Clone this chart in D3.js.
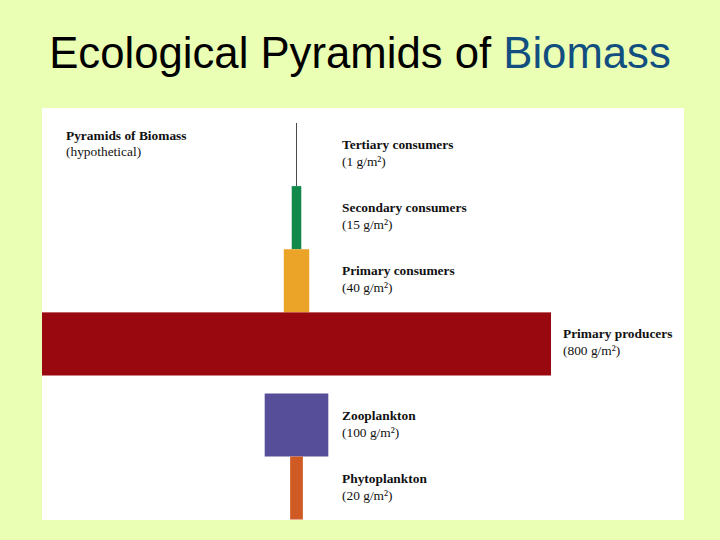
<!DOCTYPE html>
<html><head><meta charset="utf-8">
<script src="https://cdn.jsdelivr.net/npm/d3@7"></script>
<style>html,body{margin:0;padding:0;background:#eaffb4;}</style>
</head><body>
<script>
const topLevels = ["Tertiary consumers", "Secondary consumers", "Primary consumers", "Primary producers"];
const topValues = [1, 15, 40, 800];
const topColors = ["#4a4a4a", "#11894a", "#eba427", "#99070f"];
const bottomLevels = ["Zooplankton", "Phytoplankton"];
const bottomValues = [100, 20];
const bottomColors = ["#564e98", "#cf5a24"];
const unit = "g/m²";

const W = 720, H = 540;
const svg = d3.select("body").append("svg").attr("width", W).attr("height", H);
svg.append("rect").attr("width", W).attr("height", H).attr("fill", "#eaffb4");

const title = svg.append("text").attr("x", 360).attr("y", 68).attr("text-anchor", "middle")
  .attr("font-family", "Liberation Sans, Arial, sans-serif").attr("font-size", 43.7).attr("fill", "#000");
title.append("tspan").text("Ecological Pyramids of ");
title.append("tspan").attr("fill", "#124f80").text("Biomass");

svg.append("rect").attr("x", 42).attr("y", 108).attr("width", 642).attr("height", 412).attr("fill", "#fff");

const cx = 296.5;
const w = d3.scaleLinear().domain([0, 800]).range([0, 509]);
const yTop = d3.scaleBand().domain(topLevels).range([123, 375.5]);
const yBot = d3.scaleBand().domain(bottomLevels).range([393.5, 519.5]);

const font = "Liberation Serif, Times New Roman, serif";
const fs = 13.4;
const hdr = svg.append("g").attr("font-family", font).attr("font-size", fs).attr("font-weight", "bold").attr("fill", "#111");
hdr.append("text").attr("x", 66).attr("y", 140).text("Pyramids of Biomass");
hdr.append("text").attr("x", 66).attr("y", 156).attr("font-weight", "normal").text("(hypothetical)");

function drawGroup(levels, values, colors, y) {
  levels.forEach((name, i) => {
    const bw = Math.max(1, w(values[i]));
    svg.append("rect").attr("x", cx - bw / 2).attr("y", y(name))
      .attr("width", bw).attr("height", y.bandwidth()).attr("fill", colors[i]);
    const lx = Math.max(342, cx + w(values[i]) / 2 + 12);
    const g = svg.append("g").attr("font-family", font).attr("font-size", fs).attr("fill", "#111");
    g.append("text").attr("x", lx).attr("y", y(name) + 26).attr("font-weight", "bold").text(name);
    g.append("text").attr("x", lx).attr("y", y(name) + 43).text("(" + values[i] + " " + unit + ")");
  });
}
drawGroup(topLevels, topValues, topColors, yTop);
drawGroup(bottomLevels, bottomValues, bottomColors, yBot);
</script>
</body></html>
